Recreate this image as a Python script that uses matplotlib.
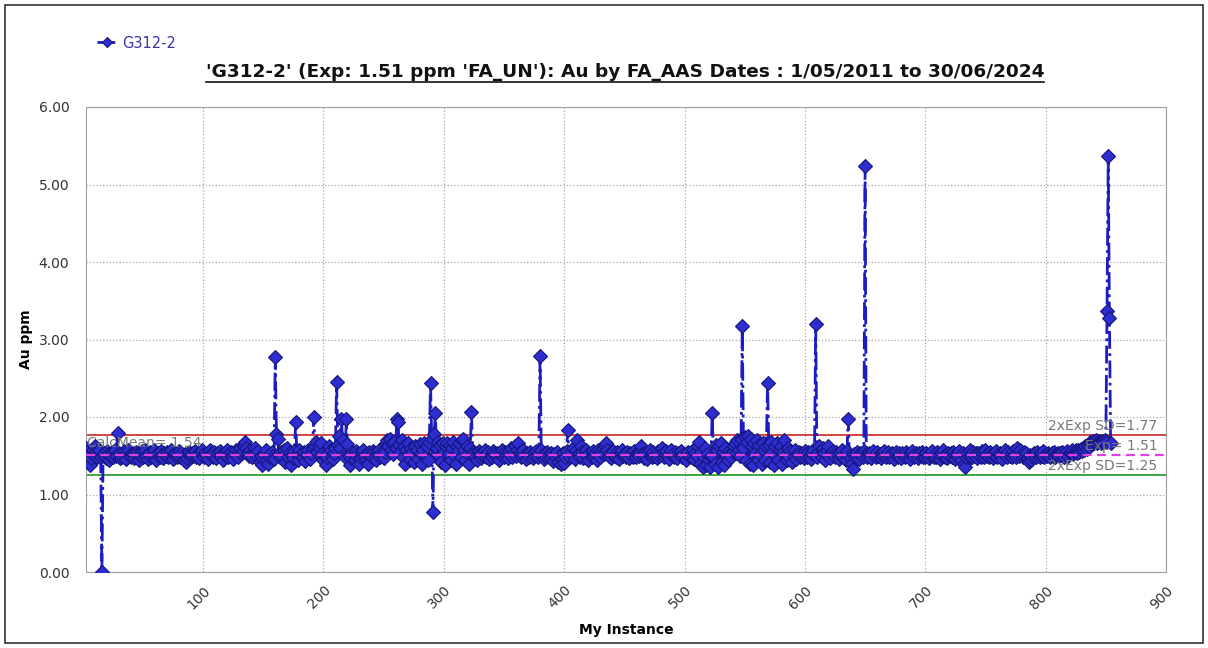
import matplotlib
matplotlib.use("Agg")
import matplotlib.pyplot as plt
from matplotlib.lines import Line2D
from matplotlib.patches import Rectangle
import numpy as np

# Au ppm readings for standard G312-2, instances 3..854
au_003_102 = [
    1.60, 1.55, 1.50, 1.38, 1.47, 1.53, 1.58, 1.62, 1.55, 1.49,
    1.52, 1.57, 1.48, 0.00, 1.51, 1.54, 1.47, 1.56, 1.52, 1.45,
    1.50, 1.55, 1.48, 1.53, 1.58, 1.50, 1.80, 1.54, 1.47, 1.52,
    1.49, 1.56, 1.51, 1.46, 1.53, 1.57, 1.50, 1.48, 1.54, 1.52,
    1.47, 1.55, 1.50, 1.53, 1.45, 1.51, 1.56, 1.49, 1.52, 1.58,
    1.50, 1.46, 1.53, 1.55, 1.48, 1.51, 1.57, 1.50, 1.44, 1.52,
    1.54, 1.49, 1.56, 1.51, 1.47, 1.53, 1.50, 1.55, 1.48, 1.52,
    1.57, 1.50, 1.46, 1.52, 1.54, 1.49, 1.51, 1.56, 1.48, 1.53,
    1.50, 1.45, 1.52, 1.42, 1.47, 1.55, 1.51, 1.49, 1.54, 1.50,
    1.56, 1.48, 1.52, 1.50, 1.47, 1.53, 1.58, 1.51, 1.49, 1.54,
]
au_103_202 = [
    1.50, 1.46, 1.53, 1.57, 1.52, 1.48, 1.55, 1.50, 1.47, 1.53,
    1.51, 1.56, 1.49, 1.52, 1.45, 1.54, 1.50, 1.57, 1.48, 1.52,
    1.55, 1.50, 1.46, 1.53, 1.58, 1.51, 1.49, 1.55, 1.60, 1.53,
    1.56, 1.62, 1.68, 1.60, 1.54, 1.50, 1.57, 1.52, 1.48, 1.55,
    1.60, 1.53, 1.49, 1.56, 1.42, 1.50, 1.38, 1.46, 1.52, 1.57,
    1.44, 1.40, 1.51, 1.48, 1.55, 1.50, 1.46, 2.78, 1.78, 1.72,
    1.52, 1.48, 1.55, 1.50, 1.57, 1.42, 1.53, 1.60, 1.49, 1.55,
    1.38, 1.51, 1.47, 1.56, 1.94, 1.52, 1.45, 1.58, 1.50, 1.54,
    1.48, 1.55, 1.43, 1.52, 1.57, 1.50, 1.46, 1.53, 1.60, 2.00,
    1.62, 1.68, 1.55, 1.64, 1.60, 1.66, 1.52, 1.45, 1.50, 1.38,
]
au_203_302 = [
    1.48, 1.55, 1.62, 1.58, 1.50, 1.46, 1.53, 1.60, 2.45, 1.64,
    1.75, 1.60, 1.98, 1.70, 1.52, 1.48, 1.97, 1.65, 1.50, 1.38,
    1.47, 1.55, 1.51, 1.44, 1.56, 1.50, 1.53, 1.40, 1.49, 1.54,
    1.57, 1.50, 1.46, 1.52, 1.40, 1.55, 1.51, 1.48, 1.56, 1.53,
    1.50, 1.45, 1.52, 1.57, 1.49, 1.54, 1.51, 1.47, 1.55, 1.66,
    1.70, 1.62, 1.72, 1.58, 1.66, 1.52, 1.68, 1.60, 1.98, 1.93,
    1.64, 1.55, 1.70, 1.48, 1.62, 1.40, 1.58, 1.66, 1.52, 1.44,
    1.60, 1.55, 1.42, 1.63, 1.50, 1.57, 1.46, 1.65, 1.53, 1.40,
    1.58, 1.66, 1.50, 1.62, 1.45, 1.68, 2.44, 1.72, 0.78, 1.78,
    2.05, 1.60, 1.68, 1.50, 1.64, 1.42, 1.66, 1.55, 1.38, 1.62,
]
au_303_402 = [
    1.67, 1.52, 1.64, 1.45, 1.60, 1.68, 1.50, 1.40, 1.63, 1.56,
    1.66, 1.48, 1.70, 1.72, 1.58, 1.44, 1.62, 1.52, 1.40, 1.60,
    2.07, 1.55, 1.48, 1.53, 1.50, 1.45, 1.56, 1.52, 1.47, 1.54,
    1.50, 1.57, 1.48, 1.52, 1.55, 1.46, 1.51, 1.49, 1.56, 1.53,
    1.48, 1.54, 1.50, 1.45, 1.52, 1.57, 1.50, 1.48, 1.55, 1.51,
    1.47, 1.56, 1.52, 1.60, 1.49, 1.54, 1.62, 1.50, 1.58, 1.67,
    1.55, 1.48, 1.52, 1.57, 1.50, 1.46, 1.53, 1.51, 1.49, 1.55,
    1.52, 1.47, 1.54, 1.50, 1.56, 1.48, 1.53, 2.79, 1.58, 1.50,
    1.46, 1.53, 1.49, 1.55, 1.51, 1.47, 1.54, 1.50, 1.43, 1.52,
    1.48, 1.55, 1.42, 1.50, 1.40, 1.47, 1.53, 1.41, 1.49, 1.56,
]
au_403_502 = [
    1.83, 1.52, 1.48, 1.55, 1.60, 1.50, 1.46, 1.57, 1.70, 1.53,
    1.49, 1.62, 1.55, 1.47, 1.52, 1.58, 1.50, 1.45, 1.54, 1.51,
    1.48, 1.56, 1.50, 1.53, 1.44, 1.57, 1.52, 1.49, 1.55, 1.60,
    1.52, 1.62, 1.66, 1.58, 1.50, 1.54, 1.47, 1.52, 1.56, 1.50,
    1.48, 1.55, 1.51, 1.46, 1.53, 1.57, 1.50, 1.52, 1.48, 1.55,
    1.50, 1.47, 1.54, 1.52, 1.49, 1.56, 1.51, 1.48, 1.53, 1.50,
    1.55, 1.62, 1.52, 1.47, 1.54, 1.50, 1.46, 1.53, 1.57, 1.51,
    1.49, 1.55, 1.50, 1.52, 1.47, 1.56, 1.50, 1.53, 1.60, 1.54,
    1.48, 1.52, 1.56, 1.50, 1.46, 1.53, 1.58, 1.51, 1.49, 1.55,
    1.50, 1.47, 1.53, 1.51, 1.56, 1.48, 1.52, 1.50, 1.45, 1.53,
]
au_503_602 = [
    1.55, 1.50, 1.48, 1.52, 1.57, 1.46, 1.53, 1.50, 1.62, 1.68,
    1.40, 1.55, 1.36, 1.48, 1.60, 1.38, 1.52, 1.45, 1.36, 1.50,
    2.05, 1.48, 1.40, 1.64, 1.58, 1.36, 1.62, 1.66, 1.42, 1.55,
    1.38, 1.60, 1.50, 1.45, 1.56, 1.52, 1.48, 1.55, 1.62, 1.66,
    1.54, 1.70, 1.58, 1.50, 1.72, 3.17, 1.60, 1.74, 1.45, 1.68,
    1.75, 1.40, 1.72, 1.62, 1.38, 1.66, 1.55, 1.70, 1.44, 1.64,
    1.52, 1.40, 1.67, 1.58, 1.45, 1.62, 2.44, 1.64, 1.42, 1.68,
    1.55, 1.38, 1.62, 1.50, 1.66, 1.44, 1.58, 1.62, 1.40, 1.55,
    1.70, 1.52, 1.45, 1.60, 1.48, 1.56, 1.42, 1.53, 1.50, 1.57,
    1.46, 1.52, 1.55, 1.49, 1.54, 1.50, 1.47, 1.56, 1.52, 1.48,
]
au_603_702 = [
    1.55, 1.50, 1.46, 1.53, 1.57, 1.51, 3.20, 1.49, 1.55, 1.62,
    1.52, 1.48, 1.60, 1.54, 1.45, 1.58, 1.62, 1.50, 1.47, 1.53,
    1.56, 1.50, 1.48, 1.55, 1.52, 1.46, 1.54, 1.50, 1.57, 1.49,
    1.52, 1.45, 1.56, 1.98, 1.50, 1.47, 1.40, 1.33, 1.52, 1.48,
    1.55, 1.50, 1.46, 1.53, 1.51, 1.48, 1.56, 5.24, 1.52, 1.49,
    1.54, 1.50, 1.47, 1.53, 1.56, 1.51, 1.48, 1.55, 1.50, 1.52,
    1.47, 1.54, 1.50, 1.56, 1.49, 1.52, 1.55, 1.48, 1.51, 1.53,
    1.50, 1.46, 1.52, 1.55, 1.49, 1.53, 1.50, 1.47, 1.54, 1.51,
    1.48, 1.55, 1.50, 1.52, 1.46, 1.53, 1.56, 1.50, 1.49, 1.54,
    1.51, 1.47, 1.53, 1.50, 1.55, 1.48, 1.52, 1.49, 1.54, 1.50,
]
au_703_802 = [
    1.47, 1.53, 1.50, 1.56, 1.49, 1.52, 1.48, 1.55, 1.51, 1.46,
    1.53, 1.50, 1.57, 1.49, 1.52, 1.47, 1.54, 1.50, 1.53, 1.48,
    1.55, 1.51, 1.46, 1.52, 1.49, 1.56, 1.50, 1.44, 1.53, 1.40,
    1.36, 1.48, 1.54, 1.50, 1.57, 1.52, 1.48, 1.55, 1.50, 1.53,
    1.47, 1.54, 1.51, 1.49, 1.56, 1.52, 1.48, 1.58, 1.50, 1.53,
    1.49, 1.55, 1.51, 1.47, 1.53, 1.50, 1.56, 1.48, 1.52, 1.54,
    1.50, 1.46, 1.53, 1.57, 1.51, 1.49, 1.55, 1.50, 1.52, 1.48,
    1.56, 1.51, 1.49, 1.60, 1.53, 1.50, 1.58, 1.52, 1.48, 1.55,
    1.50, 1.53, 1.47, 1.42, 1.51, 1.44, 1.50, 1.54, 1.52, 1.49,
    1.55, 1.51, 1.48, 1.53, 1.50, 1.56, 1.49, 1.52, 1.50, 1.54,
]
au_803_854 = [
    1.51, 1.48, 1.53, 1.50, 1.55, 1.49, 1.52, 1.54, 1.50, 1.53,
    1.51, 1.55, 1.49, 1.53, 1.52, 1.56, 1.50, 1.54, 1.53, 1.57,
    1.52, 1.55, 1.58, 1.54, 1.57, 1.55, 1.59, 1.56, 1.60, 1.58,
    1.62, 1.59, 1.64, 1.61, 1.68, 1.66, 1.69, 1.67, 1.68, 1.70,
    1.67, 1.69, 1.68, 1.66, 1.69, 1.68, 1.70, 1.68, 3.37, 5.37,
    3.28, 1.66,
]

first_instance = 3
exp_value = 1.51
calc_mean = 1.54
sd_upper = 1.77
sd_lower = 1.25
series_name = "G312-2"
title = ("'G312-2' (Exp: 1.51 ppm 'FA_UN'): Au by FA_AAS "
         "Dates : 1/05/2011 to 30/06/2024")

au_ppm = np.array(au_003_102 + au_103_202 + au_203_302 + au_303_402
                  + au_403_502 + au_503_602 + au_603_702 + au_703_802
                  + au_803_854)
instance = np.arange(first_instance, first_instance + len(au_ppm))

W, H = 1208, 648
fig = plt.figure(figsize=(W / 100, H / 100), dpi=100)
ax = fig.add_axes([86 / W, 1 - 572 / H, (1166 - 86) / W, (572 - 107) / H])

grey_txt = "#787878"
ax.axhline(sd_upper, color="#d03535", lw=1.3, zorder=2)
ax.axhline(sd_lower, color="#2f9f2f", lw=1.3, zorder=2)

ax.plot(instance, au_ppm, linestyle="-.", color="#1c1cc4", lw=2.0,
        marker="D", markersize=6.8, markerfacecolor="#2e2ed0",
        markeredgecolor="#15157a", markeredgewidth=0.8, zorder=3,
        label=series_name)

ax.axhline(exp_value, color="#e040e0", lw=1.6, ls=(0, (4, 2.5)), zorder=4)

ax.text(4, calc_mean + 0.07, "CalcMean= 1.54", color=grey_txt, fontsize=10,
        va="baseline", ha="left", zorder=5)
ax.text(893, sd_upper + 0.06, "2xExp SD=1.77", color=grey_txt, fontsize=10,
        va="baseline", ha="right", zorder=5)
ax.text(893, exp_value + 0.06, "Exp= 1.51", color=grey_txt, fontsize=10,
        va="baseline", ha="right", zorder=5)
ax.text(893, sd_lower + 0.06, "2xExp SD=1.25", color=grey_txt, fontsize=10,
        va="baseline", ha="right", zorder=5)

ax.set_xlim(2.8, 900)
ax.set_ylim(0, 6)
ax.set_xticks(range(100, 901, 100))
ax.set_yticks(np.arange(0, 6.01, 1))
ax.set_yticklabels([f"{v:.2f}" for v in np.arange(0, 6.01, 1)])
ax.grid(True, color="#a8a8a8", ls=":", lw=0.9)
ax.set_axisbelow(True)
for s in ax.spines.values():
    s.set_color("#a0a0a0")
ax.tick_params(length=0, labelsize=10, labelcolor="#333333")
ax.tick_params(axis="y", pad=12)
ax.tick_params(axis="x", pad=8)
for lab in ax.get_xticklabels():
    lab.set_rotation(45)
    lab.set_ha("right")
    lab.set_va("top")
    lab.set_rotation_mode("anchor")

ax.set_xlabel("My Instance", fontweight="bold", fontsize=10, labelpad=8)
ax.set_ylabel("Au ppm", fontweight="bold", fontsize=10, labelpad=4)

t = fig.text(625 / W, 1 - 72 / H, title, ha="center", va="center",
             fontsize=13.3, fontweight="bold", color="#111111")
fig.canvas.draw()
bb = t.get_window_extent().transformed(fig.transFigure.inverted())
fig.add_artist(Line2D([bb.x0, bb.x1], [bb.y0 - 0.002, bb.y0 - 0.002],
                      transform=fig.transFigure, color="#111111", lw=1.2))

fig.legend(loc="center left", bbox_to_anchor=(84 / W, 1 - 43 / H),
           frameon=False, handlelength=1.4, handletextpad=0.3,
           fontsize=10.5, labelcolor="#3535a8", markerscale=0.8)

fig.add_artist(Rectangle((5 / W, 5 / H), (W - 10) / W, (H - 10) / H,
                         transform=fig.transFigure, fill=False,
                         edgecolor="#333333", lw=1.2))

fig.savefig("out.png", dpi=100)
